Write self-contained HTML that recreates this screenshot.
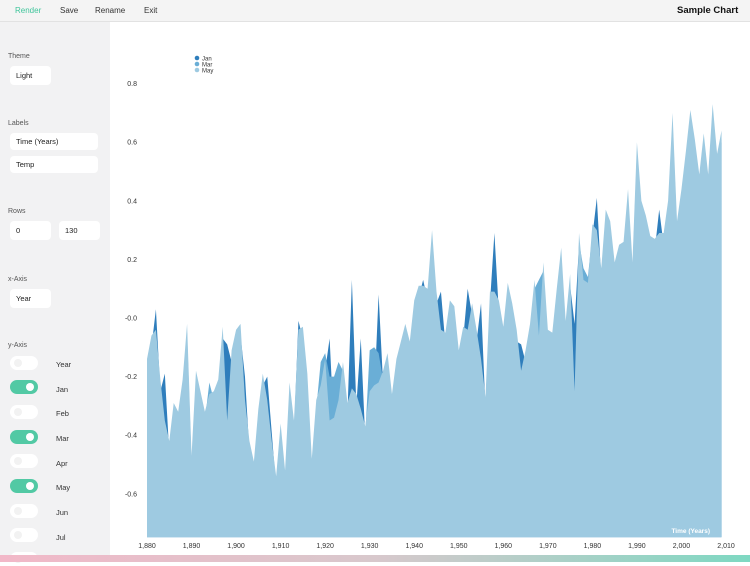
<!DOCTYPE html>
<html><head><meta charset="utf-8"><style>
*{box-sizing:border-box}
body{margin:0;width:750px;height:562px;overflow:hidden;font-family:"Liberation Sans",sans-serif;background:#fff;position:relative}
.top{position:absolute;left:0;top:0;width:750px;height:22px;background:#f4f4f4;border-bottom:1px solid #e2e2e2}
.top span{position:absolute;top:6px;font-size:8px;color:#333}
.side{position:absolute;left:0;top:22px;width:110px;height:533px;background:#f2f2f3}
.lbl{position:absolute;left:8px;font-size:7px;color:#555}
.inp{position:absolute;background:#fff;border-radius:4px;font-size:7.5px;color:#222;padding:5px 0 0 6px;height:19px}
.tg{position:absolute;left:10px;width:28px;height:14px;border-radius:7px;background:#fff}
.tg.on{background:#52c9a4}
.tg i{position:absolute;top:3px;width:8px;height:8px;border-radius:4px;background:#f2f2f2;left:4px}
.tg.on i{left:16px;background:#fff}
.tl{position:absolute;left:56px;font-size:7.5px;color:#333}
.bot{position:absolute;left:0;top:555px;width:750px;height:7px;background:linear-gradient(90deg,#f2b8c8,#d8c8cc 50%,#7ed8c2)}
</style></head><body>
<div class="top">
<span style="left:15px;color:#3fc59b">Render</span>
<span style="left:60px">Save</span>
<span style="left:95px">Rename</span>
<span style="left:144px">Exit</span>
<span style="left:677px;top:5px;font-size:9.5px;font-weight:bold;color:#111">Sample Chart</span>
</div>
<div class="side">
<div class="lbl" style="top:31px">Theme</div>
<div class="inp" style="left:10px;top:44px;width:41px">Light</div>
<div class="lbl" style="top:98px">Labels</div>
<div class="inp" style="left:10px;top:111px;width:88px;height:17px;padding-top:4px">Time (Years)</div>
<div class="inp" style="left:10px;top:134px;width:88px;height:17px;padding-top:4px">Temp</div>
<div class="lbl" style="top:186px">Rows</div>
<div class="inp" style="left:10px;top:199px;width:41px">0</div>
<div class="inp" style="left:59px;top:199px;width:41px">130</div>
<div class="lbl" style="top:254px">x-Axis</div>
<div class="inp" style="left:10px;top:267px;width:41px">Year</div>
<div class="lbl" style="top:320px">y-Axis</div>
<div class="tg" style="top:334px"><i></i></div><div class="tl" style="top:338px">Year</div>
<div class="tg on" style="top:358px"><i></i></div><div class="tl" style="top:363px">Jan</div>
<div class="tg" style="top:383px"><i></i></div><div class="tl" style="top:387px">Feb</div>
<div class="tg on" style="top:408px"><i></i></div><div class="tl" style="top:412px">Mar</div>
<div class="tg" style="top:432px"><i></i></div><div class="tl" style="top:437px">Apr</div>
<div class="tg on" style="top:457px"><i></i></div><div class="tl" style="top:461px">May</div>
<div class="tg" style="top:482px"><i></i></div><div class="tl" style="top:486px">Jun</div>
<div class="tg" style="top:506px"><i></i></div><div class="tl" style="top:511px">Jul</div>
<div class="tg" style="top:530px"><i></i></div>
</div>
<svg id="chart" width="750" height="562" style="position:absolute;left:0;top:0;pointer-events:none"></svg>
<div class="bot"></div>
<script>
const startYear = 1880;
const xTicks = [1880,1890,1900,1910,1920,1930,1940,1950,1960,1970,1980,1990,2000,2010];
const yTicks = [0.8,0.6,0.4,0.2,0.0,-0.2,-0.4,-0.6];
const seriesNames = ["Jan","Mar","May"];
const jan = [-0.18,-0.10,0.03,-0.25,-0.19,-0.46,-0.33,-0.36,-0.25,-0.06,
-0.51,-0.22,-0.29,-0.36,-0.30,-0.29,-0.25,-0.07,-0.09,-0.15,
-0.08,-0.06,-0.20,-0.46,-0.53,-0.35,-0.23,-0.20,-0.39,-0.58,
-0.40,-0.56,-0.26,-0.39,-0.01,-0.07,-0.23,-0.52,-0.32,-0.27,
-0.18,-0.07,-0.38,-0.32,-0.19,-0.33,0.13,-0.30,-0.07,-0.41,
-0.29,-0.27,0.08,-0.22,-0.16,-0.30,-0.18,-0.12,-0.06,-0.12,
0.02,0.07,0.13,0.06,0.26,0.05,0.09,-0.09,0.02,0.00,
-0.15,-0.07,0.10,0.01,-0.08,0.05,-0.31,0.05,0.29,0.02,
-0.07,0.08,0.01,-0.08,-0.09,-0.15,-0.06,0.09,-0.10,0.15,
-0.08,-0.09,0.06,0.20,-0.05,0.11,-0.02,0.25,0.09,0.08,
0.28,0.41,0.13,0.33,0.29,0.15,0.21,0.22,0.40,0.15,
0.56,0.36,0.31,0.24,0.23,0.37,0.25,0.36,0.66,0.29,
0.40,0.53,0.67,0.57,0.45,0.59,0.45,0.69,0.52,0.60];
const mar = [-0.17,-0.09,-0.07,-0.24,-0.38,-0.45,-0.32,-0.35,-0.24,-0.05,
-0.50,-0.21,-0.28,-0.35,-0.22,-0.28,-0.24,-0.06,-0.38,-0.14,
-0.07,-0.05,-0.31,-0.45,-0.52,-0.34,-0.22,-0.31,-0.45,-0.57,
-0.39,-0.55,-0.25,-0.38,-0.07,-0.06,-0.22,-0.51,-0.31,-0.15,
-0.12,-0.20,-0.20,-0.15,-0.18,-0.32,-0.27,-0.29,-0.34,-0.40,
-0.11,-0.10,-0.12,-0.21,-0.15,-0.29,-0.17,-0.11,-0.05,-0.11,
0.03,0.08,0.08,0.07,0.27,0.06,-0.07,-0.08,0.03,0.01,
-0.14,-0.06,-0.07,0.02,-0.07,-0.17,-0.30,0.06,0.06,0.03,
-0.06,0.09,0.02,-0.07,-0.21,-0.14,-0.05,0.10,0.13,0.16,
-0.07,-0.08,0.07,0.21,-0.04,0.12,-0.28,0.26,0.17,0.14,
0.29,0.27,0.14,0.34,0.30,0.16,0.22,0.23,0.41,0.16,
0.57,0.37,0.32,0.25,0.24,0.26,0.26,0.37,0.67,0.30,
0.41,0.54,0.68,0.58,0.46,0.60,0.46,0.70,0.53,0.61];
const may = [-0.14,-0.06,-0.04,-0.21,-0.35,-0.42,-0.29,-0.32,-0.21,-0.02,
-0.47,-0.18,-0.25,-0.32,-0.26,-0.25,-0.21,-0.03,-0.35,-0.11,
-0.04,-0.02,-0.28,-0.42,-0.49,-0.31,-0.19,-0.28,-0.42,-0.54,
-0.36,-0.52,-0.22,-0.35,-0.04,-0.03,-0.19,-0.48,-0.28,-0.23,
-0.14,-0.35,-0.34,-0.28,-0.15,-0.29,-0.24,-0.26,-0.31,-0.37,
-0.25,-0.23,-0.22,-0.18,-0.12,-0.26,-0.14,-0.08,-0.02,-0.08,
0.06,0.11,0.11,0.10,0.30,0.09,-0.04,-0.05,0.06,0.04,
-0.11,-0.03,-0.04,0.05,-0.04,-0.14,-0.27,0.09,0.09,0.06,
-0.03,0.12,0.05,-0.04,-0.18,-0.11,-0.02,0.13,-0.06,0.19,
-0.04,-0.05,0.10,0.24,-0.01,0.15,-0.25,0.29,0.13,0.12,
0.32,0.30,0.17,0.37,0.33,0.19,0.25,0.26,0.44,0.19,
0.60,0.40,0.35,0.28,0.27,0.29,0.29,0.40,0.70,0.33,
0.44,0.57,0.71,0.61,0.49,0.63,0.49,0.73,0.56,0.64];
const colors = ["#2f7ebc","#6aaed6","#9ecae1"];
const NS="http://www.w3.org/2000/svg";
const svg=document.getElementById('chart');
const xS=yr=>147+(yr-1880)*(726-147)/130;
const yS=v=>318-v*293;
const baseV=-0.748;
function mk(t,a){const e=document.createElementNS(NS,t);for(const k in a)e.setAttribute(k,a[k]);svg.appendChild(e);return e;}
[jan,mar,may].forEach((arr,si)=>{
  let d="M"+xS(startYear)+","+yS(baseV);
  arr.forEach((v,i)=>{d+=" L"+xS(startYear+i).toFixed(2)+","+yS(v).toFixed(2);});
  d+=" L"+xS(startYear+arr.length-1).toFixed(2)+","+yS(baseV)+" Z";
  const p=mk('path',{d:d,fill:colors[si]});
  
  
});
yTicks.forEach(v=>{
  const t=mk('text',{x:137,y:yS(v)+2.5,'text-anchor':'end','font-size':'7','fill':'#333','font-family':'Liberation Sans, sans-serif'});
  t.textContent=(v===0?"-0.0":v.toFixed(1));
  
  
});
xTicks.forEach(v=>{
  const t=mk('text',{x:xS(v),y:548,'text-anchor':'middle','font-size':'7','fill':'#333','font-family':'Liberation Sans, sans-serif'});
  t.textContent=v.toLocaleString('en-US');
  
  
});
const xt=mk('text',{x:710,y:533,'text-anchor':'end','font-size':'6.5','fill':'#fff','font-weight':'bold','font-family':'Liberation Sans, sans-serif'});
xt.textContent="Time (Years)";


seriesNames.forEach((n,i)=>{
  const c=mk('circle',{cx:197,cy:58+i*6,r:2.3,fill:colors[i]});
  
  
  const t=mk('text',{x:202,y:60.5+i*6,'font-size':'6','fill':'#333','font-family':'Liberation Sans, sans-serif'});
  t.textContent=n;
  
  
});
</script>
</body></html>
